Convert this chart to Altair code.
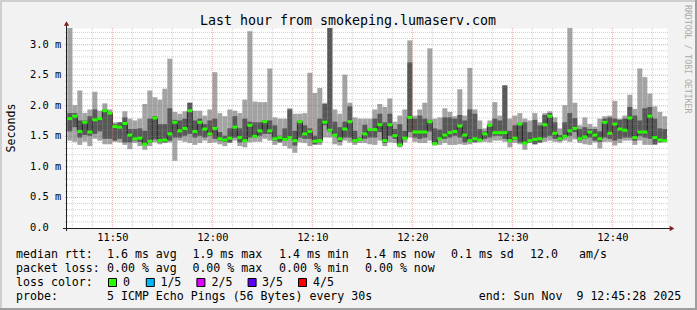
import json
import altair as alt
import pandas as pd

# ---------------- values ----------------
window_start = "11:45:28"      # graph window: 11:45:28 .. 12:45:28
window_seconds = 3600
first_step_start = "11:45:30"  # first full 30 s step
step_seconds = 30

# five sorted pings per step (ms): min, 2nd, median, 4th, max
ping_min = [1.43, 1.41, 1.36, 1.41, 1.34, 1.46, 1.43, 1.37, 1.37, 1.41,
            1.40, 1.36, 1.29, 1.39, 1.34, 1.28, 1.34, 1.40, 1.37, 1.39,
            1.40, 1.10, 1.43, 1.41, 1.39, 1.36, 1.39, 1.43, 1.39, 1.40,
            1.37, 1.34, 1.39, 1.43, 1.34, 1.32, 1.40, 1.41, 1.41, 1.46,
            1.43, 1.36, 1.39, 1.34, 1.30, 1.23, 1.40, 1.39, 1.34, 1.36,
            1.36, 1.48, 1.48, 1.37, 1.35, 1.43, 1.40, 1.36, 1.39, 1.39,
            1.37, 1.36, 1.43, 1.34, 1.40, 1.39, 1.32, 1.40, 1.48, 1.41,
            1.39, 1.39, 1.43, 1.35, 1.36, 1.39, 1.36, 1.36, 1.37, 1.36,
            1.37, 1.39, 1.40, 1.41, 1.40, 1.43, 1.43, 1.41, 1.32, 1.39,
            1.37, 1.28, 1.39, 1.37, 1.39, 1.41, 1.43, 1.41, 1.40, 1.43,
            1.41, 1.45, 1.39, 1.37, 1.36, 1.40, 1.30, 1.41, 1.41, 1.35,
            1.39, 1.43, 1.43, 1.36, 1.43, 1.36, 1.36, 1.36, 1.39, 1.40]
ping_2nd = [1.58, 1.65, 1.48, 1.52, 1.51, 1.54, 1.58, 1.46, 1.46, 1.43,
            1.46, 1.40, 1.40, 1.43, 1.41, 1.36, 1.40, 1.45, 1.40, 1.40,
            1.43, 1.48, 1.48, 1.51, 1.54, 1.48, 1.51, 1.48, 1.51, 1.46,
            1.43, 1.41, 1.40, 1.48, 1.40, 1.41, 1.48, 1.48, 1.51, 1.54,
            1.54, 1.43, 1.41, 1.43, 1.46, 1.35, 1.48, 1.46, 1.46, 1.37,
            1.40, 1.68, 1.57, 1.51, 1.41, 1.48, 1.48, 1.40, 1.43, 1.46,
            1.48, 1.48, 1.57, 1.39, 1.51, 1.46, 1.34, 1.45, 1.57, 1.48,
            1.46, 1.48, 1.58, 1.37, 1.45, 1.46, 1.48, 1.51, 1.48, 1.40,
            1.43, 1.41, 1.43, 1.46, 1.48, 1.51, 1.51, 1.46, 1.41, 1.44,
            1.40, 1.38, 1.40, 1.37, 1.40, 1.48, 1.51, 1.46, 1.43, 1.48,
            1.51, 1.57, 1.43, 1.46, 1.48, 1.43, 1.41, 1.48, 1.46, 1.43,
            1.46, 1.48, 1.48, 1.43, 1.51, 1.48, 1.46, 1.37, 1.41, 1.41]
ping_med = [1.79, 1.83, 1.58, 1.73, 1.57, 1.77, 1.79, 1.92, 1.88, 1.66,
            1.65, 1.71, 1.52, 1.46, 1.47, 1.37, 1.42, 1.80, 1.43, 1.44,
            1.54, 1.73, 1.59, 1.63, 1.92, 1.58, 1.73, 1.62, 1.54, 1.63,
            1.46, 1.44, 1.47, 1.65, 1.48, 1.43, 1.68, 1.50, 1.59, 1.74,
            1.59, 1.46, 1.48, 1.45, 1.48, 1.43, 1.74, 1.54, 1.58, 1.42,
            1.43, 1.73, 1.60, 1.52, 1.46, 1.62, 1.74, 1.43, 1.45, 1.54,
            1.61, 1.61, 1.69, 1.43, 1.69, 1.51, 1.36, 1.47, 1.81, 1.57,
            1.57, 1.57, 1.74, 1.38, 1.46, 1.52, 1.56, 1.58, 1.67, 1.52,
            1.43, 1.46, 1.44, 1.54, 1.68, 1.56, 1.56, 1.56, 1.43, 1.47,
            1.70, 1.39, 1.43, 1.45, 1.46, 1.69, 1.83, 1.55, 1.46, 1.50,
            1.59, 1.63, 1.46, 1.49, 1.57, 1.52, 1.46, 1.73, 1.55, 1.70,
            1.62, 1.60, 1.80, 1.48, 1.57, 1.57, 1.83, 1.48, 1.44, 1.43]
ping_4th = [1.88, 1.88, 1.76, 1.76, 1.83, 1.94, 1.80, 1.94, 1.90, 1.70,
            1.73, 1.81, 1.62, 1.62, 1.63, 1.59, 1.79, 1.83, 1.70, 1.70,
            1.96, 1.77, 1.76, 1.79, 2.05, 1.76, 1.79, 1.70, 1.76, 1.79,
            1.57, 1.51, 1.63, 1.83, 1.63, 1.79, 1.74, 1.73, 1.73, 1.76,
            1.76, 1.68, 1.51, 1.63, 1.94, 1.59, 1.76, 1.68, 1.63, 1.51,
            1.79, 2.03, 3.30, 1.74, 1.65, 1.74, 1.99, 1.59, 1.48, 1.69,
            1.63, 1.79, 1.87, 1.73, 1.87, 1.62, 1.70, 1.59, 2.71, 1.79,
            1.84, 1.79, 1.77, 1.63, 1.61, 1.81, 1.81, 1.79, 1.85, 1.76,
            1.94, 1.87, 1.62, 1.58, 1.70, 1.79, 1.76, 2.33, 1.59, 1.68,
            1.72, 1.73, 1.57, 1.77, 1.68, 1.85, 1.88, 1.73, 1.52, 1.73,
            1.88, 1.80, 1.62, 1.65, 1.62, 1.62, 1.58, 1.79, 1.81, 1.79,
            1.77, 1.79, 1.98, 1.84, 1.76, 1.96, 1.98, 1.79, 1.63, 1.62]
ping_max = [3.30, 2.01, 2.25, 1.88, 1.94, 2.23, 1.92, 2.04, 1.94, 1.73,
            1.73, 1.91, 1.79, 1.76, 1.79, 2.03, 2.25, 2.14, 2.10, 2.28,
            2.77, 1.90, 1.87, 1.91, 2.05, 1.92, 1.92, 1.84, 1.94, 2.55,
            1.88, 1.83, 1.94, 1.92, 1.88, 2.10, 3.22, 2.07, 2.06, 2.06,
            2.61, 1.81, 1.79, 1.79, 1.96, 1.87, 1.87, 1.88, 2.54, 2.21,
            2.29, 2.05, 3.30, 1.94, 1.87, 2.51, 2.05, 1.81, 1.79, 1.79,
            1.79, 1.94, 2.03, 1.98, 2.12, 1.74, 1.84, 1.94, 3.07, 1.84,
            1.94, 2.05, 2.94, 1.79, 1.81, 1.96, 1.90, 1.83, 2.27, 1.84,
            2.62, 1.94, 1.76, 1.63, 1.76, 2.06, 1.84, 2.34, 1.79, 1.84,
            1.88, 1.79, 1.76, 1.88, 1.73, 1.88, 1.91, 1.81, 1.63, 2.01,
            3.30, 2.05, 1.68, 1.81, 1.70, 1.66, 1.79, 1.83, 1.84, 2.08,
            1.79, 1.84, 2.18, 1.95, 2.61, 2.47, 2.20, 1.99, 1.90, 1.83]

y_max = 3.273
y_tick_values = [0.0, 0.5, 1.0, 1.5, 2.0, 2.5, 3.0]
y_tick_labels = ["0.0", "0.5 m", "1.0 m", "1.5 m", "2.0 m", "2.5 m", "3.0 m"]
x_tick_labels = ["11:50", "12:00", "12:10", "12:20", "12:30", "12:40"]

title_text = "Last hour from smokeping.lumaserv.com"
y_title_text = "Seconds"
watermark_text = "RRDTOOL / TOBI OETIKER"

legend_line1 = ["median rtt:", "1.6 ms avg", "1.9 ms max", "1.4 ms min",
                "1.4 ms now", "0.1 ms sd", "12.0", "am/s"]
legend_line2 = ["packet loss:", "0.00 % avg", "0.00 % max", "0.00 % min", "0.00 % now"]
legend_line3 = "loss color:"
loss_labels = ["0", "1/5", "2/5", "3/5", "4/5"]
loss_colors = ["#26ff00", "#00b8ff", "#dd00ff", "#5e00ff", "#ff0000"]
legend_line4 = ["probe:", "5 ICMP Echo Pings (56 Bytes) every 30s"]
end_text = "end: Sun Nov\u00a0\u00a09 12:45:28 2025"

# ---------------- layout / style ----------------
MONO = "DejaVu Sans Mono"
PL, PT = 67, 28                # plot origin in the page
PW, PH = 600, 200
BG = "#f2f2f2"
LIGHT, DARK, MEDLINE = "#a4a4a4", "#585858", "#1f1f1f"
MED_HALF_PX = 1.5
ylab_x = 30
col1_x = [16, 107, 192.4, 279, 365, 451, 530, 579]
col2_x = [16, 107, 192.4, 279, 365]
box_x = [108, 145.8, 196.4, 247.6, 298]
box_label_x = [123, 160.4, 211.6, 262, 313]
row_base = [258, 272, 286, 300]
end_x = 478.7


def clock_seconds(txt):
    parts = [int(p) for p in txt.split(":")]
    while len(parts) < 3:
        parts.append(0)
    return parts[0] * 3600 + parts[1] * 60 + parts[2]


t_start = clock_seconds(window_start)
first = clock_seconds(first_step_start) - t_start
n = len(ping_med)
df = pd.DataFrame({
    "t0": [first + step_seconds * i for i in range(n)],
    "lo": ping_min, "p2": ping_2nd, "med": ping_med, "p4": ping_4th, "hi": ping_max,
})
df["t1"] = df["t0"] + step_seconds
df["prev"] = df["med"].shift(1)

x_tick_secs = [clock_seconds(t) - t_start for t in x_tick_labels]

# grid positions (rrdtool: 0.1 ms / 2 min minor, 0.5 ms / 10 min major)
minor_h, major_h = [], []
for i in range(1, int(y_max * 10) + 1):
    (major_h if i % 5 == 0 else minor_h).append(round(i / 10, 1))
minor_v, major_v = [], []
m0 = (t_start // 60) + 1
m_end = (t_start + window_seconds) // 60
for m in range(m0, m_end + 1):
    if m % 2 == 0:
        s = m * 60 - t_start
        (major_v if m % 10 == 0 else minor_v).append(s)

xs = alt.Scale(domain=[0, window_seconds], nice=False, zero=False)
ys = alt.Scale(domain=[0, y_max], nice=False, zero=True)
px_per_ms = PH / y_max
med_half = MED_HALF_PX / px_per_ms

x_axis = alt.Axis(values=x_tick_secs,
                  labelExpr=f"{json.dumps(x_tick_labels)}[indexof({json.dumps(x_tick_secs)}, datum.value)]",
                  title="", grid=False, domain=False, ticks=False, labelFont=MONO,
                  labelFontSize=10.4, labelColor="#000000", labelPadding=4,
                  labelFlush=False, labelOverlap=False)
y_axis = alt.Axis(values=y_tick_values, labels=False, title="", grid=False,
                  domain=False, ticks=False)

base = alt.Chart(df)
light = base.mark_rect(color=LIGHT, clip=True).encode(
    x=alt.X("t0:Q", scale=xs, axis=x_axis, title=""), x2="t1",
    y=alt.Y("lo:Q", scale=ys, axis=y_axis, title=""), y2="hi")
dark = base.mark_rect(color=DARK, clip=True).encode(
    x=alt.X("t0:Q", title=""), x2="t1", y=alt.Y("p2:Q", title=""), y2="p4")
conn = base.transform_filter("isValid(datum.prev)").mark_rule(
    color=MEDLINE, strokeWidth=1, clip=True).encode(
    x=alt.X("t0:Q", title=""), y=alt.Y("prev:Q", title=""), y2="med")
green = base.transform_calculate(
    g0=f"datum.med - {med_half}", g1=f"datum.med + {med_half}").mark_rect(
    color=loss_colors[0], clip=True).encode(
    x=alt.X("t0:Q", title=""), x2="t1", y=alt.Y("g0:Q", title=""), y2="g1")


def hgrid(vals, color, op):
    return alt.Chart(pd.DataFrame({"v": vals})).mark_rule(
        color=color, strokeWidth=1, strokeDash=[1, 1], opacity=op).encode(
        y=alt.Y("v:Q", title=""), x=alt.value(-2), x2=alt.value(PW + 2))


def vgrid(vals, color, op):
    return alt.Chart(pd.DataFrame({"v": vals})).mark_rule(
        color=color, strokeWidth=1, strokeDash=[1, 1], opacity=op).encode(
        x=alt.X("v:Q", title=""), y=alt.value(0), y2=alt.value(PH + 2))


one = alt.Data(values=[{}])
layers = [light, dark, conn, green,
          hgrid(minor_h, "#8f8f8f", 0.42), vgrid(minor_v, "#8f8f8f", 0.42),
          hgrid(major_h, "#de4f4f", 0.5), vgrid(major_v, "#de4f4f", 0.5)]

# y tick labels through the y scale
ylab = alt.Chart(pd.DataFrame({"v": y_tick_values, "lab": y_tick_labels})).mark_text(
    font=MONO, fontSize=10.4, color="#000000", align="left", baseline="middle").encode(
    y=alt.Y("v:Q", title=""), x=alt.value(ylab_x - PL), text="lab:N")
layers.append(ylab)

# axis lines and arrows
layers.append(alt.Chart(one).mark_rule(color=MEDLINE, strokeWidth=1).encode(
    x=alt.value(-4), x2=alt.value(PW + 4), y=alt.value(PH + 0.5)))
layers.append(alt.Chart(one).mark_rule(color=MEDLINE, strokeWidth=1).encode(
    x=alt.value(-0.5), y=alt.value(-4), y2=alt.value(PH + 3)))
layers.append(alt.Chart(one).mark_point(shape="triangle-right", filled=True, size=28,
                                        color="#801f1f", opacity=1).encode(
    x=alt.value(PW + 5), y=alt.value(PH + 0.5)))
layers.append(alt.Chart(one).mark_point(shape="triangle-up", filled=True, size=28,
                                        color="#801f1f", opacity=1).encode(
    x=alt.value(-0.5), y=alt.value(-4.5)))


def txt(s, x, y, size=11.6, **kw):
    props = dict(font=MONO, fontSize=size, color="#000000", align="left",
                 baseline="alphabetic")
    props.update(kw)
    return alt.Chart(one).mark_text(**props).encode(
        x=alt.value(x - PL), y=alt.value(y - PT), text=alt.value(s))


layers.append(txt(title_text, 348, 24.5, size=13.3, align="center"))
layers.append(txt(y_title_text, 15, 128, size=11.6, align="center", angle=270))
layers.append(txt(watermark_text, 685, 5, size=8.2, color="#aaaaaa", angle=90))
for s, x in zip(legend_line1, col1_x):
    layers.append(txt(s, x, row_base[0]))
for s, x in zip(legend_line2, col2_x):
    layers.append(txt(s, x, row_base[1]))
layers.append(txt(legend_line3, 16, row_base[2]))
for lab, col, bx, lx in zip(loss_labels, loss_colors, box_x, box_label_x):
    layers.append(alt.Chart(one).mark_rect(fill=col, stroke="#000000", strokeWidth=1).encode(
        x=alt.value(bx - PL + 0.5), x2=alt.value(bx - PL + 8.5),
        y=alt.value(278.5 - PT), y2=alt.value(286.5 - PT)))
    layers.append(txt(lab, lx, row_base[2]))
for s, x in zip(legend_line4, [16, 107]):
    layers.append(txt(s, x, row_base[3]))
layers.append(txt(end_text, end_x, row_base[3]))

# rrdtool style frame
W, H = 697, 310
for (x0, x1, y0, y1, c) in [(0, W, 0, 2, "#cfcfcf"), (0, 2, 0, H, "#cfcfcf"),
                            (0, W, H - 2, H, "#9e9e9e"), (W - 2, W, 0, H, "#9e9e9e")]:
    layers.append(alt.Chart(one).mark_rect(color=c).encode(
        x=alt.value(x0 - PL), x2=alt.value(x1 - PL),
        y=alt.value(y0 - PT), y2=alt.value(y1 - PT)))

chart = alt.layer(*layers).properties(
    width=PW, height=PH,
    padding={"left": PL, "top": PT, "right": W - PL - PW, "bottom": H - PT - PH},
    autosize=alt.AutoSizeParams(type="none"),
    background=BG,
).configure_view(fill="#ffffff", stroke="transparent")

chart.save("out.html", embed_options={"renderer": "svg", "actions": False})
